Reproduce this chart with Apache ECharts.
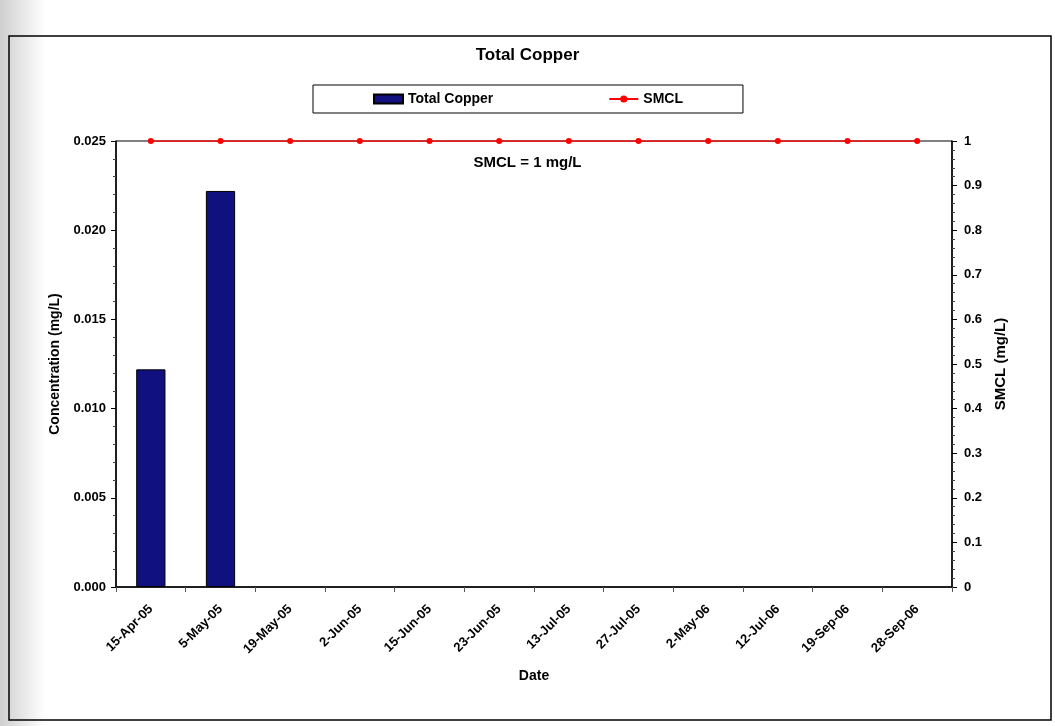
<!DOCTYPE html>
<html>
<head>
<meta charset="utf-8">
<script src="https://cdn.jsdelivr.net/npm/echarts@6/dist/echarts.min.js"></script>
<style>
html,body{margin:0;padding:0;background:#fff;}
#chart{width:1055px;height:726px;}
</style>
</head>
<body>
<div id="chart"></div>
<script>
const categories = ['15-Apr-05','5-May-05','19-May-05','2-Jun-05','15-Jun-05','23-Jun-05','13-Jul-05','27-Jul-05','2-May-06','12-Jul-06','19-Sep-06','28-Sep-06'];
const copperValues = [0.0122, 0.0222, null, null, null, null, null, null, null, null, null, null];
const smclValues = [1, 1, 1, 1, 1, 1, 1, 1, 1, 1, 1, 1];
const leftTicks = {min: 0, max: 0.025, interval: 0.005};
const rightTicks = {min: 0, max: 1, interval: 0.1};

const font = 'Liberation Sans, Arial, sans-serif';
const chart = echarts.init(document.getElementById('chart'));
chart.setOption({
  backgroundColor: '#fff',
  animation: false,
  graphic: [
    {type: 'rect', z: -10, silent: true, shape: {x: 0, y: 0, width: 45, height: 726},
     style: {fill: new echarts.graphic.LinearGradient(0, 0, 1, 0, [{offset: 0, color: '#cfcfcf'}, {offset: 1, color: '#ffffff'}])}},
    {type: 'rect', z: -5, silent: true, shape: {x: 9, y: 36, width: 1042, height: 684},
     style: {fill: 'rgba(0,0,0,0)', stroke: '#000', lineWidth: 1.5}}
  ],
  title: [
    {text: 'Total Copper', left: 'center', top: 42,
     textStyle: {fontFamily: font, fontSize: 17, fontWeight: 'bold', color: '#000'}},
    {text: 'SMCL = 1 mg/L', left: 'center', top: 150,
     textStyle: {fontFamily: font, fontSize: 15, fontWeight: 'bold', color: '#000'}}
  ],
  legend: {
    left: 313, top: 85,
    padding: [7, 60, 7, 60],
    borderColor: '#000', borderWidth: 1,
    itemGap: 115, itemWidth: 29, itemHeight: 9,
    textStyle: {fontFamily: font, fontSize: 14, fontWeight: 'bold', color: '#000'},
    data: [
      {name: 'Total Copper', icon: 'rect'},
      {name: 'SMCL'}
    ]
  },
  grid: {left: 116, right: 103, top: 141, bottom: 139, show: true, borderColor: '#000', borderWidth: 1, backgroundColor: 'transparent'},
  xAxis: {
    type: 'category',
    data: categories,
    name: 'Date', nameLocation: 'middle', nameGap: 82,
    nameTextStyle: {fontFamily: font, fontSize: 14, fontWeight: 'bold', color: '#000'},
    axisLine: {lineStyle: {color: '#000', width: 1.5}},
    axisTick: {show: true, length: 5, lineStyle: {color: '#555'}},
    axisLabel: {rotate: 45, margin: 20, fontFamily: font, fontSize: 13, fontWeight: 'bold', color: '#000'},
    splitLine: {show: false}
  },
  yAxis: [
    {
      type: 'value', position: 'left',
      min: leftTicks.min, max: leftTicks.max, interval: leftTicks.interval,
      name: 'Concentration (mg/L)', nameLocation: 'middle', nameGap: 54,
      nameTextStyle: {fontFamily: font, fontSize: 14, fontWeight: 'bold', color: '#000'},
      axisLine: {show: true, lineStyle: {color: '#000', width: 1.5}},
      axisTick: {show: true, length: 5, lineStyle: {color: '#000'}},
      minorTick: {show: true, splitNumber: 5, length: 3, lineStyle: {color: '#444'}},
      axisLabel: {fontFamily: font, fontSize: 13, fontWeight: 'bold', color: '#000', margin: 10,
                  formatter: v => v.toFixed(3)},
      splitLine: {show: false}
    },
    {
      type: 'value', position: 'right',
      min: rightTicks.min, max: rightTicks.max, interval: rightTicks.interval,
      name: 'SMCL (mg/L)', nameLocation: 'middle', nameGap: 40,
      nameTextStyle: {fontFamily: font, fontSize: 15, fontWeight: 'bold', color: '#000'},
      axisLine: {show: true, lineStyle: {color: '#000', width: 1.5}},
      axisTick: {show: true, length: 5, lineStyle: {color: '#000'}},
      minorTick: {show: true, splitNumber: 5, length: 3, lineStyle: {color: '#444'}},
      axisLabel: {fontFamily: font, fontSize: 13, fontWeight: 'bold', color: '#000', margin: 12,
                  formatter: v => String(Math.round(v * 10) / 10)},
      splitLine: {show: false}
    }
  ],
  series: [
    {
      name: 'Total Copper', type: 'bar', yAxisIndex: 0,
      data: copperValues, barWidth: '42%',
      itemStyle: {color: '#10107e', borderColor: '#000', borderWidth: 1}
    },
    {
      name: 'SMCL', type: 'line', yAxisIndex: 1,
      data: smclValues,
      symbol: 'circle', symbolSize: 6,
      lineStyle: {color: '#ff0000', width: 1.5},
      itemStyle: {color: '#ff0000'}
    }
  ]
});
</script>
</body>
</html>
